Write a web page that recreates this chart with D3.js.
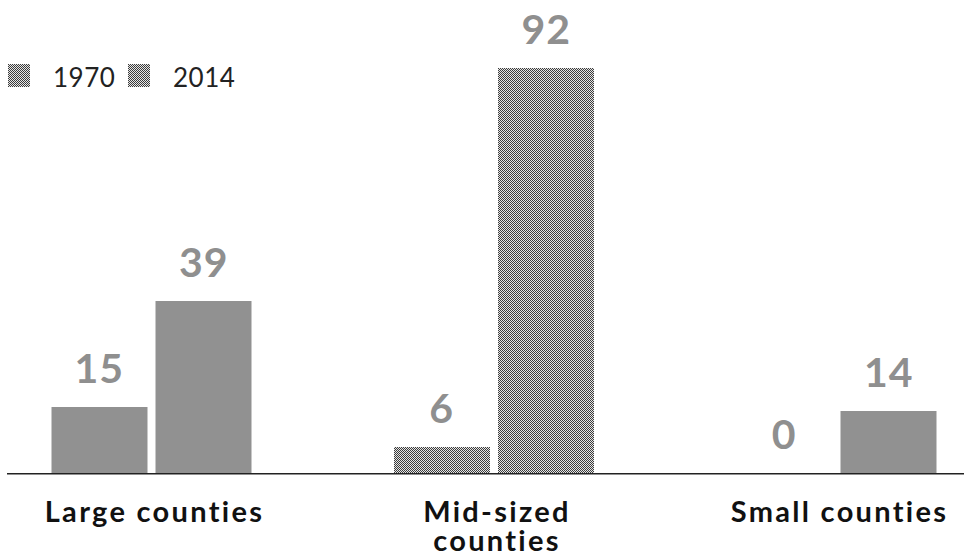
<!DOCTYPE html>
<html>
<head>
<meta charset="utf-8">
<script src="https://cdn.jsdelivr.net/npm/d3@7"></script>
<style>
  html, body { margin: 0; padding: 0; background: #fff; }
  svg { display: block; }
  text { font-variant-ligatures: none; font-feature-settings: "liga" 0; }
</style>
</head>
<body>
<svg id="chart" width="964" height="557"></svg>
<script>
// data
const categories = ["Large counties", "Mid-sized counties", "Small counties"];
const catLines = [["Large counties"], ["Mid-sized", "counties"], ["Small counties"]];
const seriesNames = ["1970", "2014"];
const values1970 = [15, 6, 0];
const values2014 = [39, 92, 14];

const W = 964, H = 557;
const baseY = 473;
const FONT = "Lato, 'Open Sans', sans-serif";
const svg = d3.select("#chart");

// dithered grey fill (1px checkerboard)
const defs = svg.append("defs");
const pat = defs.append("pattern")
  .attr("id", "dither")
  .attr("patternUnits", "userSpaceOnUse")
  .attr("width", 2).attr("height", 2);
pat.append("rect").attr("width", 2).attr("height", 2).attr("fill", "#e6e6e6");
pat.append("rect").attr("width", 1).attr("height", 1).attr("fill", "#3c3c3c");
pat.append("rect").attr("x", 1).attr("y", 1).attr("width", 1).attr("height", 1).attr("fill", "#3c3c3c");

const rows = categories.map((c, i) => ({
  cat: c,
  vals: [
    { key: seriesNames[0], v: values1970[i] },
    { key: seriesNames[1], v: values2014[i] }
  ]
}));

/* scales */
const x0 = d3.scalePoint().domain(categories).range([151.5, 836.5]);
const x1 = d3.scaleBand().domain(seriesNames).range([-100.5, 100.5]).paddingInner(0.08);
const y  = d3.scaleLinear().domain([0, 92]).range([baseY, 68]);

const groups = svg.append("g").selectAll("g.grp")
  .data(rows)
  .join("g")
  .attr("class", "grp")
  .attr("transform", d => `translate(${x0(d.cat)},0)`);

groups.selectAll("rect")
  .data(d => d.vals)
  .join("rect")
  .attr("x", d => Math.round(x1(d.key)))
  .attr("y", d => Math.round(y(d.v)))
  .attr("width", Math.round(x1.bandwidth()))
  .attr("height", d => baseY - Math.round(y(d.v)))
  .attr("fill", "url(#dither)");

groups.selectAll("text.val")
  .data(d => d.vals)
  .join("text")
  .attr("class", "val")
  .attr("x", d => x1(d.key) + x1.bandwidth() / 2)
  .attr("y", d => y(d.v) - 24)
  .attr("text-anchor", "middle")
  .attr("font-family", FONT)
  .attr("font-weight", 700)
  .attr("font-size", 41)
  .attr("letter-spacing", 1)
  .attr("fill", "#8f8f8f")
  .text(d => d.v);

// baseline
svg.append("line")
  .attr("x1", 7).attr("x2", W)
  .attr("y1", baseY + 0.75).attr("y2", baseY + 0.75)
  .attr("stroke", "#222")
  .attr("stroke-width", 1.5);

// category labels
const catLab = svg.append("g").selectAll("text.cat")
  .data(categories)
  .join("text")
  .attr("class", "cat")
  .attr("text-anchor", "middle")
  .attr("font-family", FONT)
  .attr("font-weight", 700)
  .attr("font-size", 29)
  .attr("letter-spacing", 2.3)
  .attr("fill", "#111")
  .attr("transform", d => `translate(${x0(d) + 3},522)`);
catLab.selectAll("tspan")
  .data((d, i) => catLines[i])
  .join("tspan")
  .attr("x", 0)
  .attr("dy", (d, i) => i === 0 ? 0 : 29)
  .text(d => d);

// legend
const leg = svg.append("g").selectAll("g.leg")
  .data(seriesNames)
  .join("g")
  .attr("class", "leg")
  .attr("transform", (d, i) => `translate(${8 + i * 120},64)`);
leg.append("rect")
  .attr("width", 22).attr("height", 23)
  .attr("fill", "url(#dither)");
leg.append("text")
  .attr("x", 45).attr("y", 23)
  .attr("font-family", FONT)
  .attr("font-size", 26)
  .attr("letter-spacing", 0.5)
  .attr("fill", "#222")
  .text(d => d);
</script>
</body>
</html>
